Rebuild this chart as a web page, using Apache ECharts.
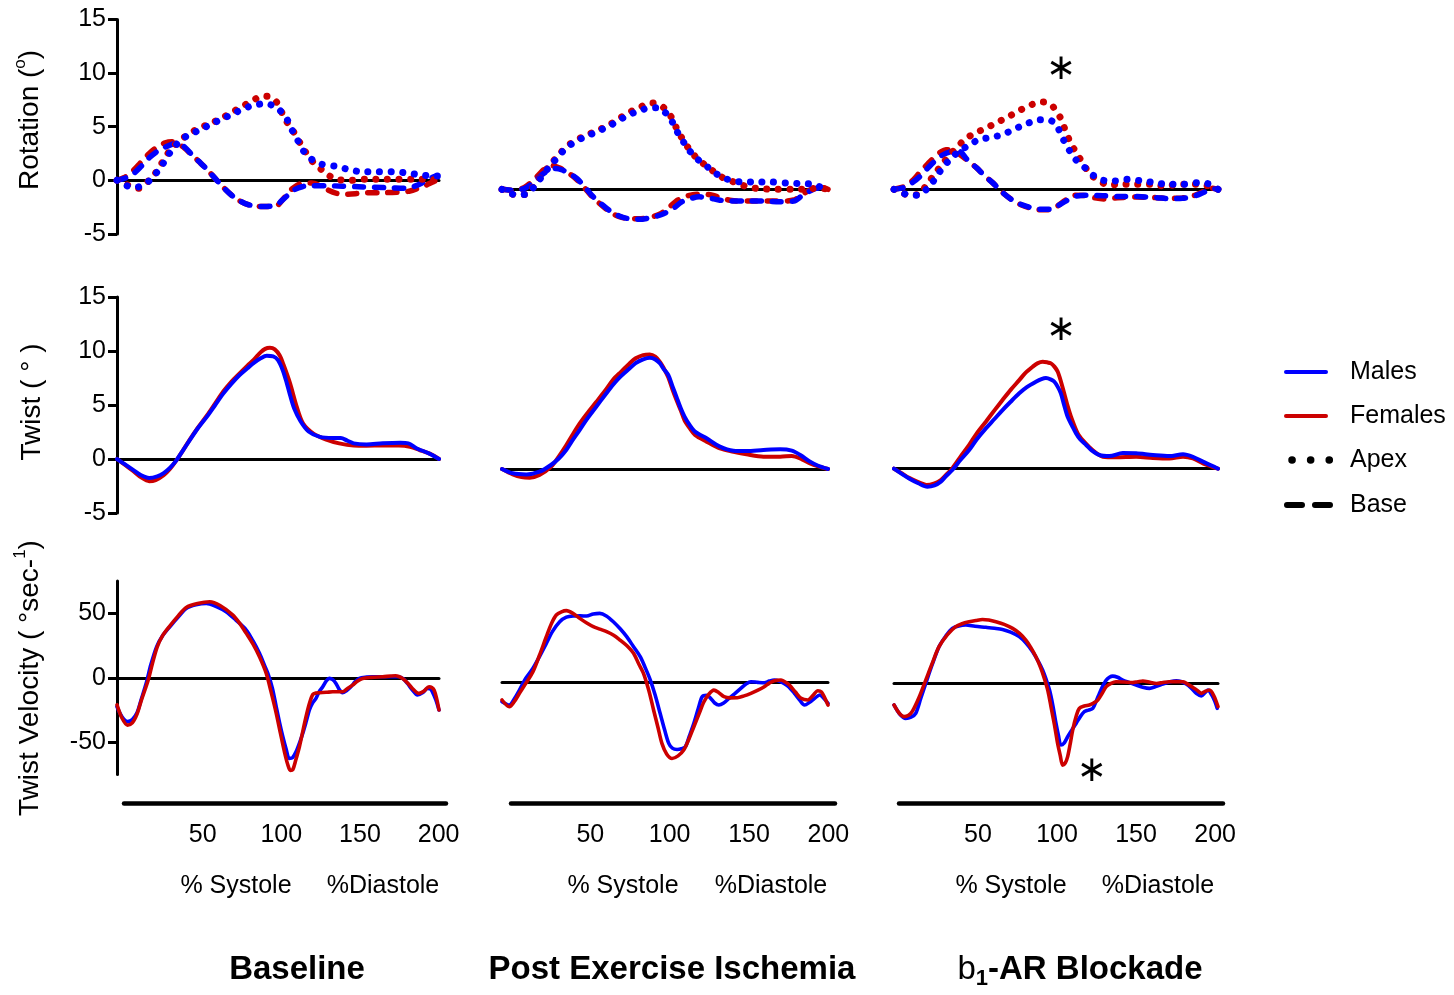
<!DOCTYPE html>
<html>
<head>
<meta charset="utf-8">
<script src="https://cdn.jsdelivr.net/npm/echarts@6/dist/echarts.min.js"></script>
<style>
  html, body { margin: 0; padding: 0; background: #fff; }
  #chart { width: 1454px; height: 995px; }
</style>
</head>
<body>
<div id="chart"></div>
<script>
// ---- data: [% of cycle, value] ----
// Baseline
const blRotApexM = [[0,0],[6,-0.5],[12,-0.65],[20,-0.05],[25,0.8],[29,1.65],[33,2.6],[38,3.5],[43,4.1],[50,4.6],[58,5.2],[65,5.7],[72,6.2],[79,6.7],[85,7.0],[92,7.15],[99,6.8],[105,5.85],[108,4.9],[112,3.8],[116,2.7],[121,1.95],[127,1.5],[136,1.3],[144,1.0],[152,0.8],[162,0.8],[171,0.8],[179,0.7],[187,0.55],[196,0.4],[199,0.4]];
const blRotApexF = [[0,0],[6,-0.4],[13,-0.75],[20,0.0],[25,0.9],[29,1.9],[33,2.8],[38,3.6],[43,4.15],[50,4.8],[58,5.3],[65,5.8],[72,6.4],[79,7.0],[85,7.5],[90,7.85],[96,7.75],[100,7.1],[104,5.8],[109,4.7],[116,2.9],[122,1.65],[127,1.0],[132,0.4],[138,0.05],[145,0.0],[155,0.1],[165,0.1],[175,0.1],[185,0.1],[193,0.1],[199,0.0]];
const blRotBaseM = [[0,0],[5,0.2],[10,0.6],[15,1.3],[20,2.1],[25,2.7],[30,3.1],[35,3.4],[38,3.45],[42,3.1],[47,2.3],[52,1.6],[56,1.0],[62,0.0],[67,-0.8],[72,-1.5],[76,-1.9],[81,-2.25],[86,-2.4],[91,-2.45],[96,-2.4],[100,-2.2],[103,-1.8],[106,-1.4],[110,-0.9],[115,-0.6],[120,-0.5],[130,-0.5],[140,-0.55],[150,-0.6],[160,-0.65],[170,-0.7],[180,-0.75],[185,-0.55],[190,-0.2],[195,0.2],[198,0.4]];
const blRotBaseF = [[0,0],[5,0.3],[10,0.9],[15,1.7],[20,2.5],[25,3.1],[30,3.5],[34,3.6],[38,3.4],[42,3.0],[47,2.3],[52,1.6],[56,1.0],[62,0.0],[67,-0.8],[72,-1.5],[76,-1.9],[81,-2.25],[86,-2.4],[91,-2.45],[96,-2.45],[100,-2.3],[104,-1.6],[108,-0.9],[112,-0.45],[116,-0.25],[121,-0.25],[126,-0.5],[131,-0.9],[136,-1.2],[141,-1.3],[148,-1.25],[155,-1.15],[165,-1.15],[175,-1.1],[182,-1.0],[187,-0.75],[192,-0.45],[197,-0.1],[200,0.0]];
const blTwistM = [[0,0],[5,-0.5],[10,-1.0],[15,-1.5],[20,-1.75],[25,-1.6],[29,-1.3],[33,-0.8],[37,-0.1],[41,0.8],[45,1.7],[50,2.8],[56,3.95],[61,5.0],[66,6.05],[71,6.95],[76,7.75],[81,8.4],[85,8.9],[89,9.3],[93,9.55],[97,9.5],[100,9.15],[103,8.2],[105.5,7.0],[107.5,5.9],[110,4.7],[114,3.5],[119,2.55],[126,2.05],[134,1.95],[139,1.95],[143,1.7],[147,1.45],[155,1.35],[165,1.45],[176,1.5],[181,1.45],[186,1.0],[194,0.5],[200,0.0]];
const blTwistF = [[0,0],[5,-0.55],[10,-1.1],[15,-1.7],[20,-2.05],[24,-1.95],[29,-1.5],[33,-0.9],[37,-0.1],[41,0.8],[45,1.75],[50,2.85],[56,4.05],[61,5.15],[66,6.25],[71,7.15],[76,7.9],[81,8.65],[85,9.2],[89,9.85],[92,10.2],[95,10.3],[98,10.15],[101,9.6],[103.5,8.7],[107.5,7.0],[111.5,4.9],[115.5,3.3],[122,2.35],[130,1.8],[138,1.45],[147,1.25],[155,1.23],[165,1.25],[175,1.25],[182,1.14],[188,0.83],[196,0.37],[200,0.0]];
const blVelM = [[0,-22.5],[3,-30],[6.5,-34],[9.5,-32.5],[12.5,-27],[15,-17],[18.4,-3],[21,10],[24.6,24],[28,32],[32.8,39.5],[38,47],[43,53.7],[49,56.5],[55.5,57.6],[61,55.5],[68,51],[74,44.5],[80.3,37],[84.5,28.5],[88.5,18.9],[91.5,10],[93.7,3.4],[96.5,-8],[98.9,-22.5],[101,-35],[103,-45.7],[105,-55],[107,-62.5],[109,-62],[111.2,-57.4],[113.5,-50],[115.4,-43],[117.5,-34],[119.5,-25],[121.5,-19.5],[123.6,-16],[125.5,-11],[127.8,-7],[130,-2.5],[131.9,-0.5],[134,-1.5],[136,-4.4],[138,-9],[140,-11.6],[142.5,-10],[145.3,-7],[148,-3],[150.5,-0.5],[155,0.5],[158.7,0.8],[167,0.8],[175,0.8],[178,-1],[180.4,-4.4],[183.5,-9.5],[186.6,-13.4],[190,-11.5],[192.8,-8.3],[194.5,-8.5],[195.9,-10.9],[198,-17],[200,-25]];
const blVelF = [[0,-21],[3,-31],[6.5,-36.7],[9.5,-35],[12.5,-28],[15,-18],[19.4,-1.8],[22,11],[25,24],[28.5,33],[33,40.5],[38,48],[43,54.5],[50,57.5],[57.6,58.9],[64,56],[72,48.6],[76,42.5],[80.3,34.4],[84.5,26],[88.5,16.3],[92.7,3.4],[95.5,-10],[98.9,-27.6],[101.5,-43],[104,-57.4],[106,-67],[107.7,-71.8],[109.2,-71.2],[111,-64],[113.3,-53.5],[115.5,-41],[117.4,-30.2],[119.5,-20],[121.6,-13],[123.5,-11.8],[125.7,-11.6],[130,-11.3],[134,-10.9],[140,-10.9],[143,-8.5],[146.3,-5.7],[149.5,-2.5],[152.5,-0.5],[158,0.3],[165,0.8],[170,1.3],[173,1.5],[175,1],[177.3,-0.5],[180.5,-4],[183.5,-8.3],[187.6,-12.1],[190.5,-10.5],[193.8,-7],[195.5,-7.5],[197,-9.6],[198.5,-16],[200,-25]];

// Post Exercise Ischemia
const peiRotApexM = [[0,0],[4,-0.3],[8,-0.5],[15,-0.45],[20,0.3],[24,1.1],[29,2.1],[34,2.95],[39,3.8],[45,4.45],[51,4.9],[58,5.35],[65,5.85],[71,6.35],[77,6.9],[84,7.3],[91,7.6],[95,7.6],[99,7.3],[103,6.7],[107,5.5],[111,4.5],[115,3.6],[120,2.8],[126,2.1],[132,1.4],[138,0.95],[146,0.7],[156,0.68],[165,0.68],[175,0.58],[183,0.53],[191,0.47],[197,0.1],[200,0.0]];
const peiRotApexF = [[0,0],[4,-0.3],[8,-0.5],[15,-0.45],[20,0.4],[24,1.2],[29,2.2],[34,3.05],[39,3.9],[45,4.55],[51,5.0],[58,5.45],[65,5.95],[71,6.5],[77,7.1],[84,7.6],[91,8.05],[96,7.95],[100,7.5],[104,6.7],[108,5.4],[112,4.4],[116,3.5],[121,2.7],[127,2.0],[133,1.3],[139,0.85],[145,0.55],[150,0.25],[158,0.06],[168,0.0],[178,0.0],[188,0.0],[194,0.15],[200,0.0]];
const peiRotBaseM = [[0,0],[8,-0.1],[14,0.1],[19,0.6],[24,1.3],[29,1.8],[33,1.95],[37,1.8],[41,1.5],[46,1.0],[52,0.0],[56,-0.7],[62,-1.5],[67,-2.1],[72,-2.5],[78,-2.75],[84,-2.8],[91,-2.65],[98,-2.35],[105,-1.8],[110,-1.2],[115,-0.9],[121,-0.7],[127,-0.8],[133,-1.0],[140,-1.1],[150,-1.1],[160,-1.1],[170,-1.15],[179,-1.1],[184,-0.6],[189,-0.15],[193,0.1],[200,0.0]];
const peiRotBaseF = [[0,0],[8,-0.1],[14,0.2],[19,0.8],[24,1.6],[28,2.1],[31,2.2],[35,2.0],[40,1.6],[46,0.9],[52,-0.1],[56,-0.8],[62,-1.6],[67,-2.2],[72,-2.55],[78,-2.75],[84,-2.75],[91,-2.6],[97,-2.3],[102,-1.75],[107,-1.1],[112,-0.7],[117,-0.5],[123,-0.45],[129,-0.55],[135,-0.85],[141,-1.05],[150,-1.1],[160,-1.1],[170,-1.1],[179,-1.0],[184,-0.5],[189,-0.05],[193,0.2],[197,0.15],[200,0.0]];
const peiTwistM = [[0,0],[6.6,-0.4],[15,-0.5],[23,-0.25],[30,0.37],[35,1.0],[39.4,1.76],[43,2.6],[47.6,3.6],[52,4.6],[57.8,5.77],[63,6.8],[68,7.78],[73,8.6],[78.4,9.32],[82,9.8],[86.6,10.15],[90.7,10.3],[94,10.15],[96.8,9.8],[99,9.3],[102,8.7],[104.5,7.7],[107,6.7],[110,5.5],[112,4.85],[115,4.1],[118.4,3.46],[125.5,2.84],[133.7,2.07],[142,1.7],[150,1.67],[160.4,1.76],[170.7,1.82],[177.8,1.7],[183,1.3],[189,0.68],[194,0.3],[200,0.0]];
const peiTwistF = [[0,0],[6.6,-0.5],[12,-0.75],[17,-0.8],[23,-0.55],[30,0.2],[35,1.2],[39.4,2.2],[43,3.1],[47.6,4.2],[52,5.1],[57.8,6.2],[63,7.2],[68,8.24],[73,9.0],[78.4,9.8],[82,10.25],[86.6,10.55],[90.7,10.6],[94,10.4],[97,9.9],[99,9.4],[102,8.5],[104.5,7.4],[107,6.4],[110,5.3],[112,4.5],[115,3.8],[118.4,3.15],[125.5,2.53],[133.7,1.9],[142,1.6],[150,1.36],[160.4,1.14],[170.7,1.14],[177.8,1.2],[184,0.9],[189,0.52],[194,0.25],[200,0.0]];
const peiVelM = [[0,-15],[4.5,-17.6],[7.5,-13],[10.7,-6],[14.5,3],[19,10.9],[23,20],[27.2,30.2],[31,39.5],[35.4,47],[39.5,50.5],[43.6,51.4],[48,51.5],[51.9,51.4],[56,53],[60,53.5],[64,51.5],[68.3,47],[72.5,41.5],[76.5,35.4],[80.5,28],[84.8,19.9],[88,11],[91,1.8],[94,-10],[97,-24],[99.8,-37],[102.3,-47.3],[104.5,-51],[107.4,-52],[110,-51.5],[112.5,-49.9],[115,-41.5],[117.7,-31.8],[120.5,-20],[122.8,-11.1],[125.5,-10],[128,-12.4],[130.5,-16],[133,-17.6],[136,-16],[139.3,-12.4],[143,-8.5],[146.5,-4.7],[149.5,-1.5],[152.7,0.5],[157,0],[161,-0.3],[164,1],[167,1.8],[170,1],[173,-0.8],[176,-3.5],[179.4,-8.5],[182.5,-13.5],[185.6,-17.6],[188.7,-15.5],[191.8,-12.4],[194.9,-9.8],[197.5,-12.5],[200,-16.3]];
const peiVelF = [[0,-13.7],[4.5,-18.9],[7.5,-15],[10.7,-8.5],[14.5,-1],[19,8.3],[23,21],[27.2,35.4],[30.5,46],[33.3,52.2],[36.5,54.7],[39.5,55.6],[43.5,53.5],[47.7,49.6],[52,46],[56,43.2],[60,41.3],[64.2,39.3],[68.5,36.5],[72.4,32.8],[76.5,28.5],[80.7,22.5],[84,14],[86.8,7],[90,-6],[93,-21.4],[95.7,-35],[98.1,-47.3],[101,-55.5],[104.3,-59],[108,-57],[111.5,-52.5],[114.5,-44.5],[117.7,-34.4],[121,-24],[123.9,-15],[127,-9],[130,-6],[133,-8],[136.2,-11.1],[140,-12],[144.4,-11.9],[148.5,-10.5],[152.7,-8.5],[157,-6],[160.9,-3.4],[164,-0.6],[167,1.3],[171.2,1.8],[173.5,0.5],[176.3,-2.1],[180,-7.5],[183.5,-12.4],[187.6,-13.7],[190.5,-10.5],[193.8,-6.5],[196,-7.5],[198,-12],[200,-17.6]];

// b1-AR Blockade
const blkRotApexM = [[0,0],[4,-0.2],[8,-0.5],[15,-0.55],[21,0.15],[25,0.9],[29,1.8],[34,2.7],[39,3.4],[45,4.0],[52,4.6],[60,4.85],[67,5.1],[74,5.6],[81,6.05],[88,6.45],[95,6.5],[99,6.2],[101,5.8],[104,4.8],[108,3.7],[112,2.8],[118,2.0],[123,1.3],[129,0.85],[136,0.78],[144,0.93],[153,0.78],[161,0.62],[169,0.47],[178,0.47],[188,0.62],[195,0.47],[200,0.0]];
const blkRotApexF = [[0,0],[4,-0.2],[8,-0.5],[15,-0.5],[20,0.4],[25,1.4],[30,2.4],[35,3.3],[40,4.1],[45,4.8],[51,5.3],[58,5.8],[64,6.27],[71,6.8],[78,7.4],[85,7.9],[92,8.15],[97,7.9],[100,7.3],[103,6.6],[105.5,5.6],[108.5,4.5],[112.5,3.4],[117,2.35],[121,1.4],[127,0.8],[132,0.4],[141,0.47],[150,0.47],[160,0.47],[167,0.3],[177,0.47],[186,0.47],[195,0.3],[200,0.0]];
const blkRotBaseM = [[0,0],[7,0.2],[12,0.7],[16,1.2],[21,2.0],[25,2.6],[30,3.2],[35,3.5],[40,3.57],[45,2.8],[51,2.0],[56,1.25],[61,0.6],[67,-0.3],[74,-1.1],[81,-1.55],[90,-1.85],[96,-1.85],[101,-1.55],[106,-1.1],[112,-0.65],[119,-0.55],[129,-0.6],[141,-0.68],[150,-0.68],[162,-0.78],[170,-0.87],[178,-0.84],[186,-0.6],[191,-0.3],[197,0.05],[200,0.0]];
const blkRotBaseF = [[0,0],[7,0.3],[12,0.9],[16,1.6],[21,2.4],[25,3.0],[29,3.5],[32,3.7],[36,3.6],[41,3.2],[46,2.6],[51,2.0],[56,1.25],[61,0.6],[67,-0.3],[74,-1.1],[81,-1.6],[90,-1.9],[96,-1.9],[101,-1.55],[106,-1.0],[112,-0.55],[118,-0.6],[124,-0.8],[130,-0.9],[138,-0.8],[150,-0.72],[162,-0.78],[170,-0.85],[178,-0.8],[186,-0.55],[191,-0.2],[196,0.1],[200,0.0]];
const blkTwistM = [[0,0],[5,-0.5],[9.3,-0.9],[15,-1.35],[20.6,-1.67],[25,-1.55],[28.9,-1.2],[32,-0.7],[36,-0.12],[41,0.8],[46.4,1.73],[51,2.7],[56.7,3.73],[62,4.6],[67,5.43],[72,6.2],[77.3,6.98],[82,7.55],[87.6,8.05],[91,8.3],[93.8,8.4],[97,8.25],[99,8.05],[101,7.6],[103,6.98],[105,5.9],[107.2,4.8],[110,3.95],[112.4,3.27],[115,2.7],[118.6,2.2],[122,1.7],[126.8,1.27],[133,1.17],[141.2,1.45],[149.5,1.42],[159.8,1.27],[170,1.17],[178.4,1.33],[184.5,1.1],[190.7,0.65],[196,0.3],[200,0.0]];
const blkTwistF = [[0,0],[5,-0.45],[9.3,-0.85],[15,-1.25],[20,-1.5],[25,-1.35],[28.9,-1.05],[32,-0.6],[36,0.03],[41,1.1],[46.4,2.2],[51,3.25],[56.7,4.35],[62,5.4],[67,6.36],[72,7.3],[77.3,8.2],[81,8.85],[85.6,9.44],[88.5,9.75],[91.8,9.9],[94.5,9.85],[96.9,9.75],[99,9.45],[101,9.0],[103,8.1],[105,7.0],[107,5.9],[109.3,4.8],[113.4,3.27],[117,2.55],[120.6,2.0],[124.5,1.5],[128.9,1.1],[137,1.05],[149.5,1.1],[159.8,1.0],[170,0.95],[178.4,1.1],[184.5,0.95],[190.7,0.5],[196,0.2],[200,0.0]];
const blkVelM = [[0,-17],[3.5,-24],[7.2,-27.4],[10.5,-26.5],[13.4,-23.5],[16.5,-12],[19.6,-0.3],[23.5,14],[27.8,28.2],[32,36.5],[36,42.4],[40,44.3],[44.3,45],[50,44],[56.7,43.2],[62,42.5],[67,41.6],[72,39.5],[77.3,36],[81.5,31],[85.6,24.3],[89,17],[91.8,10],[94,2.5],[96,-5.4],[98,-17],[100,-31.3],[101.5,-40.5],[103,-48],[105,-46.5],[107.2,-41.6],[110,-36],[112.4,-31.3],[115,-26],[117.5,-22.2],[120,-21],[122.7,-19.6],[125,-13.5],[126.8,-8],[129,-2],[131,2.3],[133,4.5],[135,5.4],[138,4.5],[141.2,2.3],[145,0.5],[149.5,-1.6],[153.5,-3.2],[157.7,-4.1],[162,-2.5],[166,-0.8],[170,0.8],[174.2,1.8],[177.5,1],[180.4,-0.8],[183.5,-4],[186.6,-8],[189.7,-10],[192,-7.5],[193.8,-5.4],[196,-9],[198,-14],[199.5,-19.6]];
const blkVelF = [[0,-17],[3,-23],[6.2,-26],[9,-25],[11.3,-22],[15.5,-11],[19.6,2.3],[23.5,15],[27.8,28.2],[33,37.5],[38.1,43.7],[42,46],[46.4,47.5],[50.5,48.5],[54.6,49.3],[58.5,48.8],[62.9,47.5],[68,45.5],[73.2,42.4],[77.5,38.5],[81.4,33.3],[84.5,27.5],[87.6,20.4],[90.5,12],[92.8,3.6],[95,-6],[96.9,-18.3],[99,-32],[101,-46.8],[102.6,-56],[104.1,-63.6],[105.7,-62],[107.2,-57],[108.8,-47],[110.3,-36.4],[112.4,-26],[114.4,-19.6],[117.5,-17.8],[120.6,-17],[123.2,-15.5],[125.8,-13.2],[128.5,-8],[131,-2.8],[134,-0.3],[137,1],[142,0.8],[147.4,0.3],[150.5,1],[153.6,1.6],[158,0.6],[162,-0.3],[166,0.4],[170,1],[174,1.1],[178.4,1],[181.5,-1],[184.5,-3.4],[187,-5.5],[189.7,-8],[192,-6.5],[194.8,-5.4],[197.5,-10],[200,-18.3]];

const conditions = ['Baseline', 'Post Exercise Ischemia', 'b1-AR Blockade'];
const rotApexM = [blRotApexM, peiRotApexM, blkRotApexM];
const rotApexF = [blRotApexF, peiRotApexF, blkRotApexF];
const rotBaseM = [blRotBaseM, peiRotBaseM, blkRotBaseM];
const rotBaseF = [blRotBaseF, peiRotBaseF, blkRotBaseF];
const twistM = [blTwistM, peiTwistM, blkTwistM];
const twistF = [blTwistF, peiTwistF, blkTwistF];
const velM = [blVelM, peiVelM, blkVelM];
const velF = [blVelF, peiVelF, blkVelF];

const rotTicks = [-5, 0, 5, 10, 15];
const velTicks = [-50, 0, 50];
const cycleTicks = [50, 100, 150, 200];
// significance marks (column, row, [x, y])
const asterisks = [[2, 0, [103, 11.2]], [2, 1, [103, 12.8]], [2, 2, [122, -69]]];

// ---- layout ----
const FONT = '"Liberation Sans", Arial, Helvetica, sans-serif';
const BLUE = '#0000ff';
const RED = '#cc0000';

const colLeft = [117, 502, 894];
const colWidth = [322, 326, 324];
const rowTop = [[19.5, 28.5, 28.5], [297, 307, 306.7], [581, 585.6, 586.3]];
const rowHeight = [214.4, 216, 193.5];
const yRange = [[-5, 15], [-5, 15], [-75, 75]];

const DOT = { width: 7, type: [0.1, 11.5], cap: 'round' };
const DASH = { width: 5.5, type: [9, 11], cap: 'round' };
const SOLID = { width: 4, cap: 'round' };
const SOLID_V = { width: 3.6, cap: 'round' };

const chart = echarts.init(document.getElementById('chart'));

const grids = [], xAxes = [], yAxes = [], series = [];

function addLine(gi, data, color, style) {
  series.push({
    type: 'line',
    xAxisIndex: gi,
    yAxisIndex: gi,
    data: data,
    smooth: 0.3,
    showSymbol: false,
    silent: true,
    lineStyle: Object.assign({ color: color }, style),
  });
}

for (let r = 0; r < 3; r++) {
  for (let c = 0; c < 3; c++) {
    const gi = grids.length;
    grids.push({ left: colLeft[c], top: rowTop[r][c], width: colWidth[c], height: rowHeight[r] });
    xAxes.push({
      gridIndex: gi, type: 'value', min: 0, max: 200,
      axisLine: { show: true, onZero: true, lineStyle: { color: '#000', width: 3 } },
      axisTick: { show: false }, axisLabel: { show: false }, splitLine: { show: false },
    });
    const ticks = r === 2 ? velTicks : rotTicks;
    if (c === 0) {
      yAxes.push({
        gridIndex: gi, type: 'value', min: yRange[r][0], max: yRange[r][1],
        axisLine: { show: true, onZero: false, lineStyle: { color: '#000', width: 3 } },
        axisTick: { show: true, length: 9, customValues: ticks, lineStyle: { color: '#000', width: 3 } },
        axisLabel: { show: true, customValues: ticks, color: '#000', fontSize: 25, fontFamily: FONT, margin: 11 },
        splitLine: { show: false },
      });
    } else {
      yAxes.push({ gridIndex: gi, type: 'value', min: yRange[r][0], max: yRange[r][1], show: false });
    }

    if (r === 0) {
      addLine(gi, rotBaseF[c], RED, DASH);
      addLine(gi, rotBaseM[c], BLUE, DASH);
      addLine(gi, rotApexF[c], RED, DOT);
      addLine(gi, rotApexM[c], BLUE, DOT);
    } else if (r === 1) {
      addLine(gi, twistF[c], RED, SOLID);
      addLine(gi, twistM[c], BLUE, SOLID);
    } else {
      addLine(gi, velM[c], BLUE, SOLID_V);
      addLine(gi, velF[c], RED, SOLID_V);
    }

    const marks = asterisks.filter(a => a[0] === c && a[1] === r);
    if (marks.length) {
      series[series.length - 1].markPoint = {
        silent: true,
        symbol: 'circle',
        symbolSize: 1,
        itemStyle: { color: 'rgba(0,0,0,0)' },
        label: { show: true, position: 'inside', formatter: '\u2217', color: '#000', fontSize: 36, fontFamily: '"DejaVu Sans", sans-serif' },
        data: marks.map(a => ({ coord: a[2] })),
      };
    }
  }
}

// separate bottom axes (% of cycle)
const axisLeft = [124, 511, 899];
const axisWidth = [322, 324, 324];
const axisMax = [204.7, 204.2, 205];
for (let c = 0; c < 3; c++) {
  const gi = grids.length;
  grids.push({ left: axisLeft[c], top: 793, width: axisWidth[c], height: 10 });
  xAxes.push({
    gridIndex: gi, type: 'value', min: 0, max: axisMax[c], position: 'bottom',
    axisLine: { show: true, onZero: false, lineStyle: { color: '#000', width: 4.5, cap: 'round' } },
    axisTick: { show: false },
    axisLabel: { show: true, customValues: cycleTicks, color: '#000', fontSize: 25, fontFamily: FONT, margin: 20 },
    splitLine: { show: false },
  });
  yAxes.push({ gridIndex: gi, type: 'value', min: 0, max: 1, show: false });
}

// ---- texts ----
const graphic = [];
const colCenter = [297, 672, 1080];
const sysX = [236, 623, 1011];
const diaX = [383, 771, 1158];
for (let c = 0; c < 3; c++) {
  graphic.push({ type: 'text', x: sysX[c], y: 886, style: { text: '% Systole', font: '25px ' + FONT, fill: '#000', textAlign: 'center', textVerticalAlign: 'middle' } });
  graphic.push({ type: 'text', x: diaX[c], y: 886, style: { text: '%Diastole', font: '25px ' + FONT, fill: '#000', textAlign: 'center', textVerticalAlign: 'middle' } });
}
graphic.push({ type: 'text', x: colCenter[0], y: 970, style: { text: conditions[0], font: 'bold 33px ' + FONT, fill: '#000', textAlign: 'center', textVerticalAlign: 'middle' } });
graphic.push({ type: 'text', x: colCenter[1], y: 970, style: { text: conditions[1], font: 'bold 33px ' + FONT, fill: '#000', textAlign: 'center', textVerticalAlign: 'middle' } });
graphic.push({
  type: 'text', x: colCenter[2], y: 970,
  style: {
    text: '{n|b}{s|1}{t|-AR Blockade}', fill: '#000', textAlign: 'center', textVerticalAlign: 'middle',
    rich: {
      n: { fontFamily: FONT, fontSize: 33, lineHeight: 40 },
      s: { fontFamily: FONT, fontSize: 22, fontWeight: 'bold', lineHeight: 18, verticalAlign: 'bottom' },
      t: { fontFamily: FONT, fontSize: 33, fontWeight: 'bold', lineHeight: 40 },
    },
  },
});

// y-axis titles
const yTitleRich = {
  m: { fontFamily: FONT, fontSize: 28, lineHeight: 36 },
  u: { fontFamily: FONT, fontSize: 17, lineHeight: 16, verticalAlign: 'top' },
};
graphic.push({ type: 'text', x: 30, y: 120, rotation: Math.PI / 2, style: { text: '{m|Rotation (}{u|o}{m|)}', rich: yTitleRich, fill: '#000', textAlign: 'center', textVerticalAlign: 'middle' } });
graphic.push({ type: 'text', x: 32, y: 402, rotation: Math.PI / 2, style: { text: '{m|Twist ( \u00b0 )}', rich: yTitleRich, fill: '#000', textAlign: 'center', textVerticalAlign: 'middle' } });
graphic.push({ type: 'text', x: 30, y: 678, rotation: Math.PI / 2, style: { text: '{m|Twist Velocity ( \u00b0sec-}{u|1}{m|)}', rich: yTitleRich, fill: '#000', textAlign: 'center', textVerticalAlign: 'middle' } });

// legend
const legendRows = [
  { name: 'Males', y: 372, color: BLUE, kind: 'solid' },
  { name: 'Females', y: 416, color: RED, kind: 'solid' },
  { name: 'Apex', y: 460, color: '#000', kind: 'dot' },
  { name: 'Base', y: 505, color: '#000', kind: 'dash' },
];
legendRows.forEach(function (it) {
  let shape, style;
  if (it.kind === 'solid') {
    shape = { x1: 1286, y1: it.y, x2: 1326, y2: it.y };
    style = { stroke: it.color, lineWidth: 4, lineCap: 'round' };
  } else if (it.kind === 'dot') {
    shape = { x1: 1292, y1: it.y, x2: 1330, y2: it.y };
    style = { stroke: it.color, lineWidth: 7.5, lineCap: 'round', lineDash: [0.1, 18.5] };
  } else {
    shape = { x1: 1287, y1: it.y, x2: 1331, y2: it.y };
    style = { stroke: it.color, lineWidth: 6, lineCap: 'round', lineDash: [15, 13] };
  }
  graphic.push({ type: 'line', shape: shape, style: style, silent: true });
  graphic.push({ type: 'text', x: 1350, y: it.y, style: { text: it.name, font: '25px ' + FONT, fill: '#000', textAlign: 'left', textVerticalAlign: 'middle' } });
});

chart.setOption({
  animation: false,
  backgroundColor: '#fff',
  textStyle: { fontFamily: FONT },
  grid: grids,
  xAxis: xAxes,
  yAxis: yAxes,
  series: series,
  graphic: graphic,
});
</script>
</body>
</html>
